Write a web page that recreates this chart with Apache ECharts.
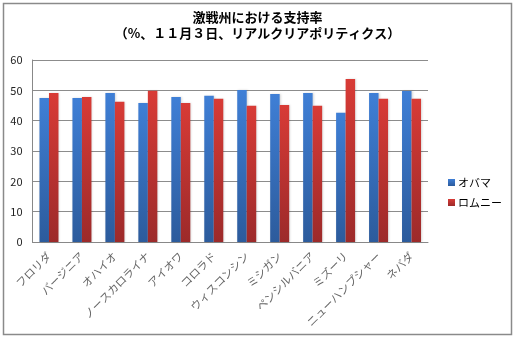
<!DOCTYPE html>
<html>
<head>
<meta charset="utf-8">
<script src="https://cdn.jsdelivr.net/npm/echarts@6/dist/echarts.min.js"></script>
<style>
html,body{margin:0;padding:0;background:#fff;}
#chart{width:515px;height:339px;}
</style>
</head>
<body>
<div id="chart"></div>
<script>
const titleLines = ['激戦州における支持率', '（%、１１月３日、リアルクリアポリティクス）'];
const categories = ['フロリダ', 'バージニア', 'オハイオ', 'ノースカロライナ', 'アイオワ', 'コロラド', 'ウィスコンシン', 'ミシガン', 'ペンシルバニア', 'ミズーリ', 'ニューハンプシャー', 'ネバダ'];
const seriesNames = ['オバマ', 'ロムニー'];
const obama = [47.5, 47.5, 49.1, 45.8, 47.8, 48.2, 50.1, 48.8, 49.1, 42.6, 49.1, 49.8];
const romney = [49.1, 47.8, 46.2, 49.9, 45.8, 47.2, 44.9, 45.2, 44.9, 53.7, 47.2, 47.2];
const yTicks = [0, 10, 20, 30, 40, 50, 60];

const chart = echarts.init(document.getElementById('chart'));
const font = '"Noto Sans CJK JP", sans-serif';
function grad(top, bottom) {
  return new echarts.graphic.LinearGradient(0, 0, 0, 1, [
    {offset: 0, color: top}, {offset: 1, color: bottom}
  ]);
}
chart.setOption({
  animation: false,
  backgroundColor: '#fff',
  textStyle: {fontFamily: font},
  title: {
    text: titleLines.join('\n'),
    left: 'center',
    top: 4,
    textStyle: {fontSize: 13, fontWeight: 'bold', color: '#000', lineHeight: 16, fontFamily: font}
  },
  graphic: [{
    type: 'rect',
    shape: {x: 3.5, y: 3.5, width: 508, height: 331},
    style: {fill: 'none', stroke: '#8a8a8a', lineWidth: 1.5},
    silent: true
  }],
  legend: {
    orient: 'vertical',
    left: 443,
    top: 172,
    itemWidth: 7,
    itemHeight: 7,
    itemGap: 9,
    icon: 'rect',
    textStyle: {fontSize: 11, color: '#000', padding: [0, 0, 0, -2]},
    data: seriesNames
  },
  grid: {left: 32.5, right: 87, top: 60, bottom: 97},
  xAxis: {
    type: 'category',
    data: categories,
    axisLine: {lineStyle: {color: '#888', width: 1}},
    axisTick: {show: false},
    axisLabel: {rotate: 45, fontSize: 11, color: '#666', margin: 12, interval: 0}
  },
  yAxis: {
    type: 'value',
    min: yTicks[0],
    max: yTicks[yTicks.length - 1],
    interval: 10,
    axisLine: {show: true, lineStyle: {color: '#888'}},
    axisTick: {show: false},
    axisLabel: {fontSize: 11, color: '#222', margin: 10},
    splitLine: {lineStyle: {color: '#8c8c8c', width: 1}}
  },
  series: [{
    name: seriesNames[0],
    type: 'bar',
    data: obama,
    barWidth: 9.5,
    barGap: '0%',
    itemStyle: {color: grad('#3f7fd6', '#2c5b9c'), shadowColor: 'rgba(0,0,0,0.15)', shadowBlur: 2, shadowOffsetX: 1}
  }, {
    name: seriesNames[1],
    type: 'bar',
    data: romney,
    barWidth: 9.5,
    barGap: '0%',
    itemStyle: {color: grad('#d83b36', '#9c2a2a'), shadowColor: 'rgba(0,0,0,0.15)', shadowBlur: 2, shadowOffsetX: 1}
  }]
});
</script>
</body>
</html>
